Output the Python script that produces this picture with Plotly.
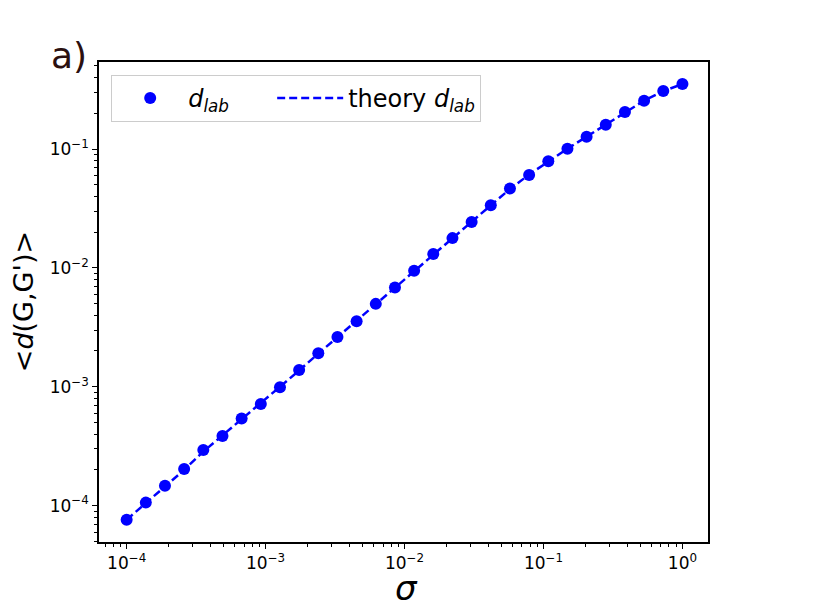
import plotly.graph_objects as go

# sigma values (30 points, evenly spaced on log scale from 1e-4 to 1)
sigma = [1.000e-4, 1.374e-4, 1.887e-4, 2.593e-4, 3.562e-4, 4.894e-4, 6.723e-4, 9.237e-4,
         1.269e-3, 1.743e-3, 2.395e-3, 3.290e-3, 4.520e-3, 6.210e-3, 8.532e-3, 1.172e-2,
         1.610e-2, 2.212e-2, 3.039e-2, 4.175e-2, 5.736e-2, 7.880e-2, 1.083e-1, 1.487e-1,
         2.043e-1, 2.807e-1, 3.857e-1, 5.298e-1, 7.279e-1, 1.000e0]

d_lab = [7.62e-5, 1.06e-4, 1.47e-4, 2.03e-4, 2.94e-4, 3.85e-4, 5.40e-4, 7.16e-4,
         9.91e-4, 1.386e-3, 1.915e-3, 2.627e-3, 3.56e-3, 4.98e-3, 6.85e-3, 9.45e-3,
         1.306e-2, 1.78e-2, 2.43e-2, 3.36e-2, 4.65e-2, 6.04e-2, 7.88e-2, 1.006e-1,
         1.269e-1, 1.60e-1, 2.05e-1, 2.55e-1, 3.08e-1, 3.52e-1]

theory_d_lab = [7.6e-5, 1.05e-4, 1.45e-4, 2.0e-4, 2.85e-4, 3.9e-4, 5.35e-4, 7.2e-4,
                9.9e-4, 1.37e-3, 1.9e-3, 2.62e-3, 3.58e-3, 4.95e-3, 6.85e-3, 9.4e-3,
                1.30e-2, 1.78e-2, 2.44e-2, 3.36e-2, 4.6e-2, 6.1e-2, 7.9e-2, 1.006e-1,
                1.27e-1, 1.60e-1, 2.04e-1, 2.55e-1, 3.07e-1, 3.52e-1]

x_tickvals = [1e-4, 1e-3, 1e-2, 1e-1, 1e0]
x_ticktext = ["10<sup>−4</sup>", "10<sup>−3</sup>", "10<sup>−2</sup>", "10<sup>−1</sup>", "10<sup>0</sup>"]
y_tickvals = [1e-4, 1e-3, 1e-2, 1e-1]
y_ticktext = ["10<sup>−4</sup>", "10<sup>−3</sup>", "10<sup>−2</sup>", "10<sup>−1</sup>"]

BLUE = "#0000ff"
FONT = "DejaVu Sans"
PAD = "\u00a0" * 5

fig = go.Figure()
fig.add_trace(go.Scatter(
    x=sigma, y=d_lab, mode="markers",
    marker=dict(color=BLUE, size=12),
    name="<i>d</i><sub><i>lab</i></sub>" + PAD))
fig.add_trace(go.Scatter(
    x=sigma, y=theory_d_lab, mode="lines",
    line=dict(color=BLUE, width=2.5, dash="8px,4px"),
    name="theory <i>d</i><sub><i>lab</i></sub>"))

axis_common = dict(
    type="log", showgrid=False, zeroline=False, automargin=False,
    showline=True, linecolor="black", linewidth=1.5, mirror=True,
    ticks="outside", ticklen=5, tickwidth=1.3, tickcolor="black",
    tickfont=dict(family=FONT, size=17, color="black"),
    minor=dict(ticks="outside", ticklen=3, tickwidth=1, tickcolor="black", dtick="D1", showgrid=False),
)

fig.update_layout(
    width=814, height=610,
    margin=dict(l=91, r=114, t=54, b=76),
    paper_bgcolor="white", plot_bgcolor="white",
    font=dict(family=FONT, color="black"),
    xaxis=dict(axis_common, range=[-4.199, 0.184], tickmode="array",
               tickvals=x_tickvals, ticktext=x_ticktext),
    yaxis=dict(axis_common, range=[-4.306, -0.268], tickmode="array",
               tickvals=y_tickvals, ticktext=y_ticktext),
    legend=dict(orientation="h", x=0.02, y=0.973, xanchor="left", yanchor="top",
                bgcolor="rgba(255,255,255,0.8)", bordercolor="#cccccc", borderwidth=1,
                font=dict(family=FONT, size=24), itemwidth=66,
                traceorder="normal"),
    annotations=[
        dict(text="a)", xref="paper", yref="paper", x=-0.017, y=1.014,
             xanchor="right", yanchor="middle", showarrow=False,
             font=dict(family=FONT, size=36, color="#2b1010")),
        dict(text="<i>σ</i>", xref="paper", yref="paper", x=0.505, y=-0.096,
             xanchor="center", yanchor="middle", showarrow=False,
             font=dict(family=FONT, size=34, color="black")),
        dict(text="&lt;<i>d</i>(G,G')&gt;", xref="paper", yref="paper", x=-0.1245, y=0.5,
             xanchor="center", yanchor="middle", showarrow=False, textangle=-90,
             font=dict(family=FONT, size=27, color="black")),
    ],
)

fig.write_html("out.html")
